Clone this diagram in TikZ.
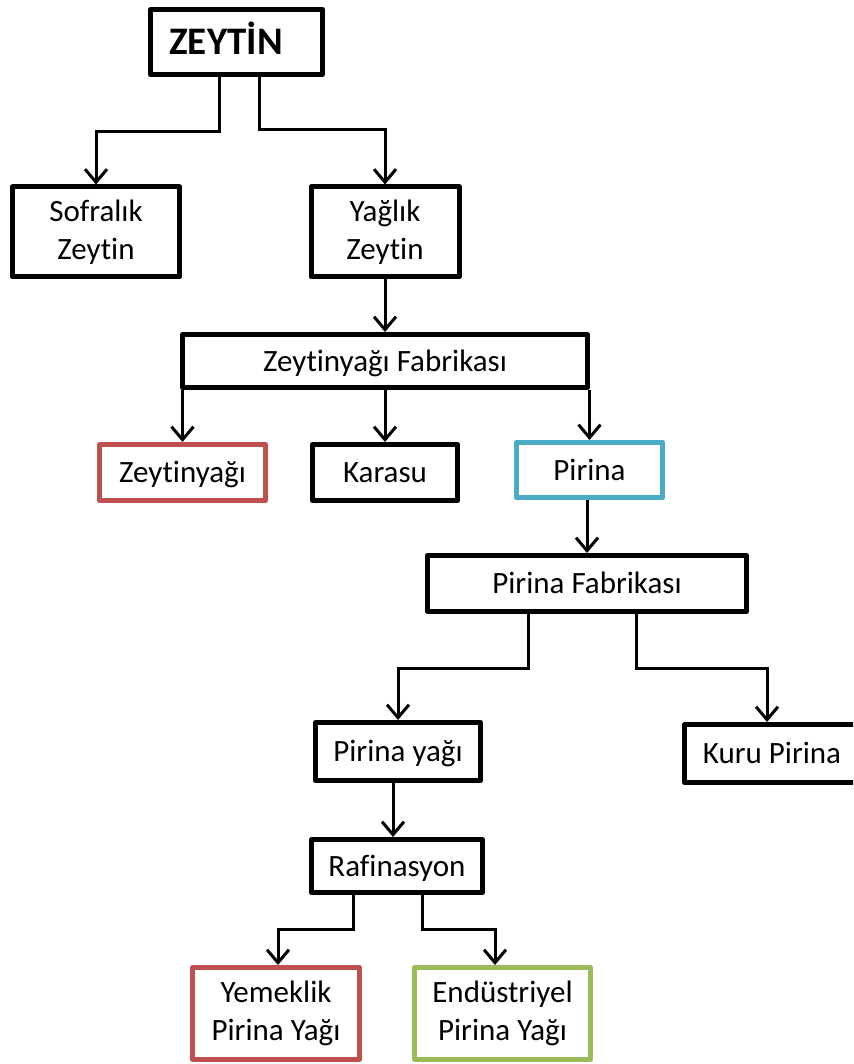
\documentclass[tikz,border=0pt]{standalone}
\usepackage{fontspec}
\setmainfont{Carlito}[Ligatures=NoCommon]
\usetikzlibrary{arrows.meta}
\definecolor{boxred}{HTML}{C0504D}
\definecolor{boxblue}{HTML}{4BACC6}
\definecolor{boxgreen}{HTML}{9BBB59}
\begin{document}
\begin{tikzpicture}[x=1pt,y=-1pt,
  box/.style={draw, line width=5pt, line join=round, inner sep=0pt, align=center,
    font=\fontsize{31}{38}\selectfont},
  single/.style={text height=20pt, text depth=0pt},
  arr/.style={line width=3pt, -{Straight Barb[length=13pt,width=22pt]}}]
\useasboundingbox (0,0) rectangle (853,1064);
\clip (0,0) rectangle (853,1064);

% boxes
\node[box, minimum width=172pt, minimum height=65pt,
  font=\bfseries\fontsize{39}{44}\selectfont, text height=25pt, text depth=0pt]
  (zey) at (236.5,42) {ZEYTİN\hspace*{21pt}};
\node[box, minimum width=167pt, minimum height=90pt, yshift=-1.5pt] (sof) at (96,230.5) {Sofralık\\Zeytin};
\node[box, minimum width=148pt, minimum height=90pt, yshift=-1.5pt] (yag) at (385,230.5) {Yağlık\\Zeytin};
\node[box, single, minimum width=405pt, minimum height=53pt] (zfab) at (385,361) {Zeytinyağı Fabrikası};
\node[box, single, draw=boxred, minimum width=166pt, minimum height=56pt] (zyag) at (182.5,472.5) {Zeytinyağı};
\node[box, single, minimum width=145pt, minimum height=56pt] (kar) at (385,472.5) {Karasu};
\node[box, single, draw=boxblue, minimum width=146.5pt, minimum height=55pt] (pir) at (589.5,470) {Pirina};
\node[box, single, minimum width=319pt, minimum height=56pt] (pfab) at (587,583.5) {Pirina Fabrikası};
\node[box, single, minimum width=165pt, minimum height=58pt] (pyag) at (398,751.5) {Pirina yağı};
\node[box, single, minimum width=175pt, minimum height=58pt] (kuru) at (772,753.5) {Kuru Pirina};
\node[box, single, minimum width=171pt, minimum height=53pt] (raf) at (397,866) {Rafinasyon};
\node[box, draw=boxred, minimum width=167pt, minimum height=92pt] (yem) at (276,1013.5) {Yemeklik\\Pirina Yağı};
\node[box, draw=boxgreen, minimum width=176pt, minimum height=92pt] (endu) at (502.5,1013.5) {Endüstriyel\\Pirina Yağı};

% bend points of the elbow connectors
\coordinate (b1) at (219,132);
\coordinate (b2) at (259,130);
\coordinate (b3) at (528,668);
\coordinate (b4) at (636,668);
\coordinate (b5) at (767,668);
\coordinate (b6) at (353,929);
\coordinate (b7) at (278,929);
\coordinate (b8) at (422,929);
\coordinate (b9) at (495,929);

% connectors
\draw[arr] (zey.south -| b1) -- (b1) -| (sof.north);
\draw[arr] (zey.south -| b2) -- (b2) -| (yag.north);
\draw[arr] (yag.south) -- (yag.south |- zfab.north);
\draw[arr] (zfab.south -| zyag.north) -- (zyag.north);
\draw[arr] (zfab.south -| kar.north) -- (kar.north);
\draw[arr] (zfab.south -| pir.north) -- (pir.north);
\draw[arr] (pir.south -| pfab.north) -- (pfab.north);
\draw[arr] (pfab.south -| b3) -- (b3) -| (pyag.north);
\draw[arr] (pfab.south -| b4) -- (b4) -- (b5) -- (b5 |- kuru.north);
\draw[arr] ([xshift=-5pt]pyag.south) -- ([xshift=-5pt]pyag.south |- raf.north);
\draw[arr] (raf.south -| b6) -- (b6) -- (b7) -- (b7 |- yem.north);
\draw[arr] (raf.south -| b8) -- (b8) -- (b9) -- (b9 |- endu.north);
\end{tikzpicture}
\end{document}
